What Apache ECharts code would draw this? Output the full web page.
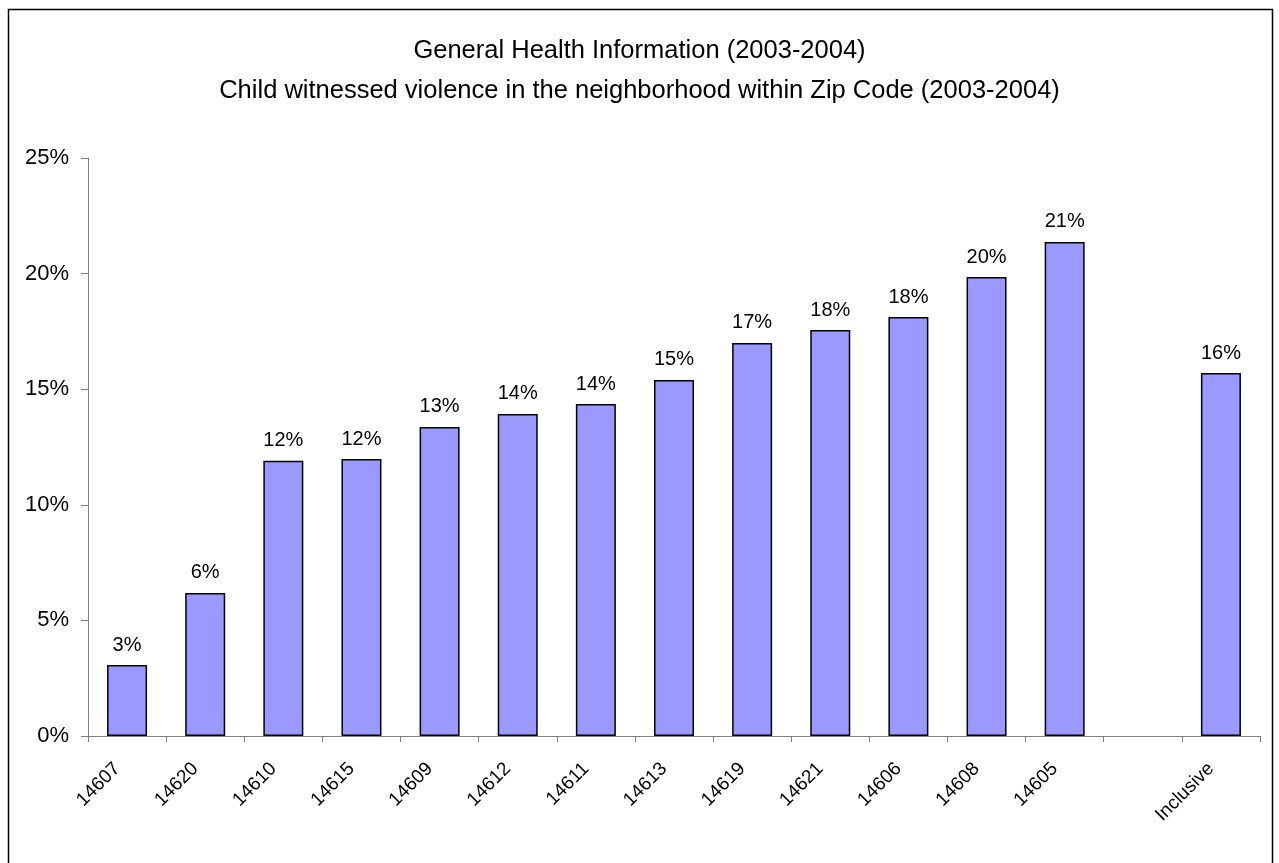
<!DOCTYPE html>
<html>
<head>
<meta charset="utf-8">
<script src="https://cdn.jsdelivr.net/npm/echarts@6/dist/echarts.min.js"></script>
<style>
  html, body { margin: 0; padding: 0; background: #fff; }
  #chart { width: 1279px; height: 863px; }
</style>
</head>
<body>
<div id="chart"></div>
<script>
const titleText = 'General Health Information (2003-2004)';
const subtitleText = 'Child witnessed violence in the neighborhood within Zip Code (2003-2004)';
const zipCodes = ['14607', '14620', '14610', '14615', '14609', '14612', '14611', '14613', '14619', '14621', '14606', '14608', '14605', '', 'Inclusive'];
const percentValues = [3.07, 6.19, 11.9, 11.98, 13.37, 13.93, 14.36, 15.4, 17.0, 17.56, 18.12, 19.85, 21.37, '-', 15.7];

const chart = echarts.init(document.getElementById('chart'));
const font = 'Liberation Sans, Arial, sans-serif';

const option = {
  backgroundColor: '#fff',
  animation: false,
  graphic: [{
    type: 'rect',
    shape: { x: 8.5, y: 9.5, width: 1264, height: 870 },
    style: { fill: 'none', stroke: '#000', lineWidth: 1.5 },
    silent: true
  }],
  title: [
    {
      text: titleText,
      left: 'center', top: 33,
      textStyle: { fontFamily: font, fontSize: 25.5, fontWeight: 'normal', color: '#000' }
    },
    {
      text: subtitleText,
      left: 'center', top: 73,
      textStyle: { fontFamily: font, fontSize: 25.5, fontWeight: 'normal', color: '#000' }
    }
  ],
  grid: { left: 88, right: 19, top: 158, bottom: 127 },
  xAxis: {
    type: 'category',
    data: zipCodes,
    axisLine: { lineStyle: { color: '#808080', width: 1 } },
    axisTick: { show: true, length: 6, lineStyle: { color: '#808080' } },
    axisLabel: {
      rotate: 45, interval: 0, margin: 20, padding: [0, 14, 0, 0],
      fontFamily: font, fontSize: 19, color: '#000'
    }
  },
  yAxis: {
    type: 'value',
    min: 0, max: 25, interval: 5,
    splitLine: { show: false },
    axisLine: { show: true, lineStyle: { color: '#808080', width: 1 } },
    axisTick: { show: true, length: 7, lineStyle: { color: '#808080' } },
    axisLabel: {
      formatter: '{value}%', margin: 19,
      fontFamily: font, fontSize: 22, color: '#000'
    }
  },
  series: [{
    type: 'bar',
    data: percentValues,
    barWidth: 40,
    itemStyle: { color: '#9999FF', borderColor: '#000', borderWidth: 1.5 },
    label: {
      show: true, position: 'top', distance: 10,
      fontFamily: font, fontSize: 20, color: '#000',
      formatter: p => Math.round(p.value) + '%'
    }
  }]
};

chart.setOption(option);
</script>
</body>
</html>
